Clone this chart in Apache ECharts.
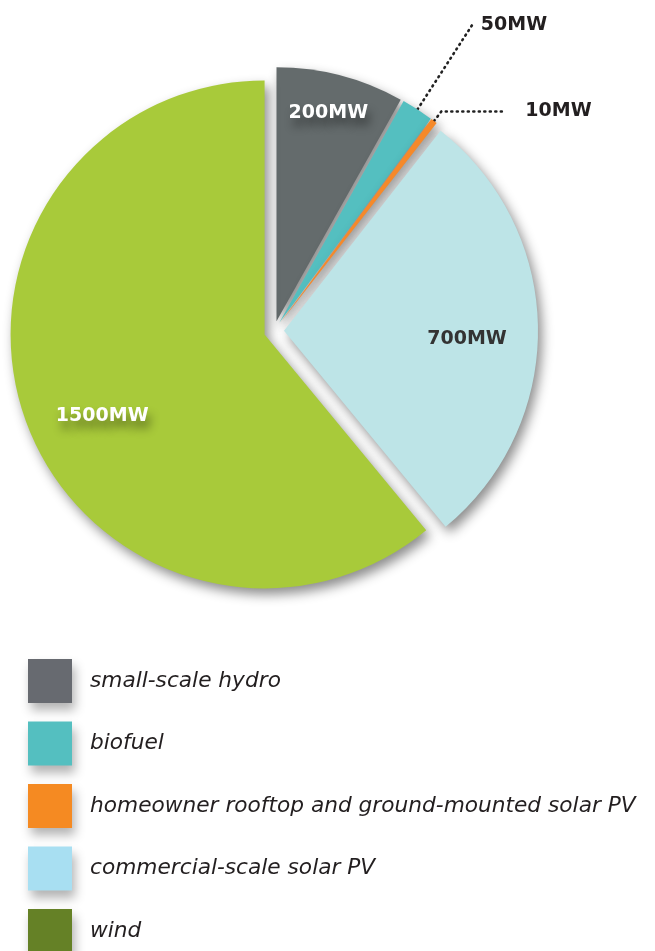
<!DOCTYPE html>
<html><head><meta charset="utf-8">
<script src="https://cdn.jsdelivr.net/npm/echarts@6/dist/echarts.min.js"></script>
<style>html,body{margin:0;padding:0;background:#fff}#c{width:655px;height:951px}</style>
</head><body><div id="c"></div>
<script>
const categories = ['small-scale hydro','biofuel','homeowner rooftop and ground-mounted solar PV','commercial-scale solar PV','wind'];
const capacityMW = [200, 50, 10, 700, 1500];
const valueLabels = ['200MW','50MW','10MW','700MW','1500MW'];

const sliceColors = ['#646b6c','#54bfc0','#f5892a','#bde4e7','#a8ca3a'];
const legendColors = ['#676a70','#54bfc0','#f58a22','#a8dff2','#658126'];

// label placement tweaks (style, not data)
const insideShift = {0:{dx:19,dy:-82}, 3:{dx:53,dy:10}, 4:{dx:-40,dy:38}};
const labelFont = 'DejaVu Sans';

const whiteLabel = {show:true, position:'inside', color:'#fff', fontFamily:labelFont, fontWeight:'bold', fontSize:19,
  textShadowColor:'rgba(0,0,0,0.45)', textShadowBlur:10, textShadowOffsetX:3, textShadowOffsetY:8};
const darkInside = {show:true, position:'inside', color:'#333', fontFamily:labelFont, fontWeight:'bold', fontSize:19};
const dotted = {type:[1,4.5], width:2.6, cap:'round', color:'#222'};
const labelCfg = [
  {label:whiteLabel, labelLine:{show:false}},
  {label:{show:true, position:'outside', color:'#231f20', fontFamily:labelFont, fontWeight:'bold', fontSize:19, padding:[0,0,26,0], distanceToLabelLine:5},
   labelLine:{show:true, length:100, length2:4, lineStyle:dotted}},
  {label:{show:true, position:'outside', color:'#231f20', fontFamily:labelFont, fontWeight:'bold', fontSize:19, padding:[0,0,8,0], distanceToLabelLine:22},
   labelLine:{show:true, length:12, length2:62, lineStyle:dotted}},
  {label:darkInside, labelLine:{show:false}},
  {label:whiteLabel, labelLine:{show:false}}
];

const data = categories.map((name,i)=>Object.assign({
  name, value:capacityMW[i], selected:true,
  itemStyle:{color:sliceColors[i]}
}, labelCfg[i], {label:Object.assign({}, labelCfg[i].label, {formatter:valueLabels[i]})}));

const chart = echarts.init(document.getElementById('c'), null, {renderer:'canvas'});
chart.setOption({
  animation:false,
  backgroundColor:'#fff',
  legend:{
    orient:'vertical', left:28, top:659, height:300, padding:0, itemWidth:44, itemHeight:44, itemGap:18.5,
    icon:'rect', selectedMode:false,
    data: categories.map((name,i)=>({name, itemStyle:{color:legendColors[i], shadowBlur:10, shadowColor:'rgba(0,0,0,0.3)', shadowOffsetX:3, shadowOffsetY:7}})),
    textStyle:{fontFamily:'DejaVu Sans', fontStyle:'italic', fontSize:21.7, color:'#231f20', padding:[8,0,0,13]}
  },
  series:[{
    type:'pie', center:[274,331], radius:[0,254], startAngle:90, clockwise:true,
    selectedMode:'multiple', selectedOffset:10, avoidLabelOverlap:false,
    emphasis:{disabled:true},
    itemStyle:{shadowBlur:12, shadowColor:'rgba(0,0,0,0.45)', shadowOffsetX:4, shadowOffsetY:6},
    labelLayout:function(p){ const s = insideShift[p.dataIndex]; return s ? {dx:s.dx, dy:s.dy} : {}; },
    data
  }]
});
</script></body></html>
